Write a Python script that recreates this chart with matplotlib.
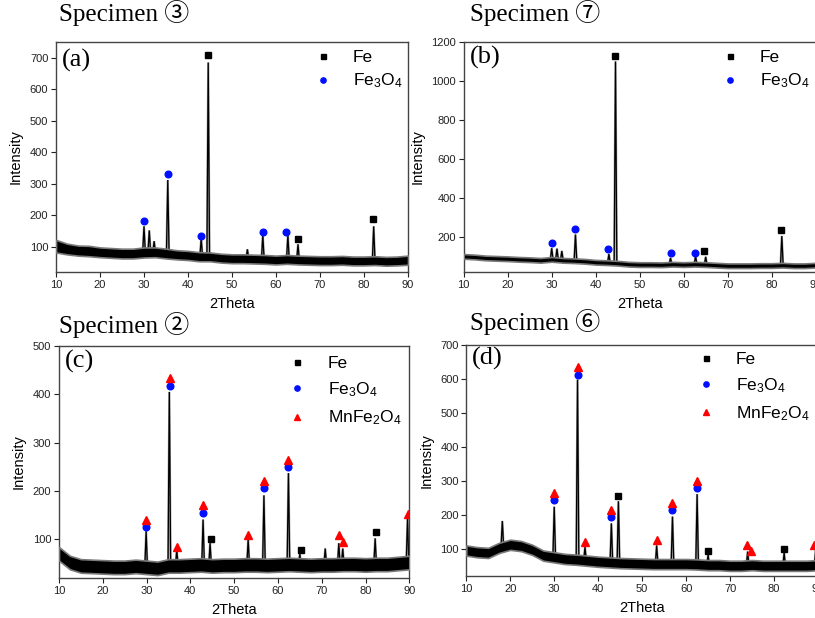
import numpy as np
import matplotlib
matplotlib.use("Agg")
import matplotlib.pyplot as plt
from matplotlib.lines import Line2D

plt.rcParams['font.family'] = ['Liberation Sans', 'DejaVu Sans']
plt.rcParams['mathtext.fontset'] = 'custom'
plt.rcParams['mathtext.rm'] = 'Liberation Sans'
plt.rcParams['mathtext.it'] = 'Liberation Sans:italic'

# ---------------- data ----------------
bg_x = [10, 12.5, 15, 17.5, 20, 22.5, 25, 27.5, 30, 32.5, 35, 37.5, 40, 42.5, 45,
        47.5, 50, 52.5, 55, 57.5, 60, 62.5, 65, 67.5, 70, 72.5, 75, 77.5, 80,
        82.5, 85, 87.5, 90]

# Specimen 3 (a)
a_lo = [82, 76, 72, 70, 67, 65, 63, 63, 66, 67, 63, 60, 58, 54, 54, 50, 48, 48,
        47, 46, 44, 46, 44, 43, 42, 42, 43, 41, 41, 42, 40, 41, 43]
a_hi = [122, 110, 104, 103, 98, 96, 94, 94, 98, 98, 94, 89, 87, 83, 82, 78, 76,
        76, 75, 74, 72, 74, 72, 71, 70, 70, 71, 69, 69, 70, 68, 69, 72]
a_pk_x = [30.0, 31.2, 32.3, 35.4, 43.0, 44.6, 53.5, 57.0, 62.7, 65.0, 82.2]
a_pk_y = [165, 152, 118, 312, 128, 685, 92, 138, 138, 108, 165]
a_fe_x = [44.6, 64.9, 82.1]
a_fe_y = [710, 124, 188]
a_fo_x = [30.0, 35.4, 42.9, 57.0, 62.3]
a_fo_y = [183, 330, 134, 148, 148]

# Specimen 7 (b)
b_lo = [88, 85, 80, 78, 76, 73, 71, 68, 73, 68, 66, 63, 58, 56, 53, 48, 46, 46,
        45, 48, 46, 48, 46, 43, 40, 40, 40, 41, 41, 43, 40, 40, 43]
b_hi = [112, 109, 104, 102, 100, 97, 95, 92, 97, 92, 90, 87, 82, 80, 77, 72, 70,
        70, 69, 72, 70, 72, 70, 67, 64, 64, 64, 65, 65, 67, 64, 64, 67]
b_pk_x = [30.0, 31.2, 32.3, 35.4, 43.0, 44.5, 57.0, 62.7, 65.0, 82.3]
b_pk_y = [142, 140, 128, 212, 112, 1100, 92, 102, 98, 205]
b_fe_x = [44.4, 64.7, 82.1]
b_fe_y = [1130, 130, 236]
b_fo_x = [30.1, 35.4, 42.9, 57.0, 62.5]
b_fo_y = [171, 243, 140, 120, 120]

# Specimen 2 (c)
c_lo = [56, 38, 31, 30, 29, 28, 28, 30, 28, 26, 31, 31, 32, 33, 31, 32, 32, 33,
        33, 32, 33, 34, 33, 32, 33, 33, 34, 34, 33, 34, 34, 36, 38]
c_hi = [84, 66, 59, 58, 57, 56, 56, 58, 56, 54, 59, 59, 60, 61, 59, 60, 60, 61,
        61, 60, 61, 62, 61, 60, 61, 61, 62, 62, 61, 62, 62, 64, 66]
c_pk_x = [29.9, 35.2, 36.9, 42.9, 44.5, 53.2, 56.8, 62.4, 65.0, 70.8, 73.9,
          74.8, 82.2, 89.6]
c_pk_y = [117, 405, 78, 141, 92, 100, 191, 237, 70, 81, 92, 81, 102, 143]
c_fe_x = [44.6, 65.2, 82.3]
c_fe_y = [101, 78, 115]
c_fo_x = [29.8, 35.3, 43.0, 56.8, 62.4]
c_fo_y = [125, 418, 155, 206, 250]
c_mn_x = [29.8, 35.3, 36.9, 43.0, 53.2, 56.8, 62.4, 74.0, 74.9, 89.6]
c_mn_y = [141, 434, 85, 171, 110, 221, 265, 108, 94, 152]

# Specimen 6 (d)
d_lo = [80, 75, 73, 88, 97, 93, 82, 65, 60, 55, 53, 50, 47, 45, 43, 42, 41, 40,
        40, 40, 40, 39, 37, 37, 35, 35, 37, 35, 35, 35, 35, 35, 37]
d_hi = [110, 105, 103, 118, 127, 123, 112, 95, 90, 85, 83, 80, 77, 75, 73, 72,
        71, 70, 70, 70, 70, 69, 67, 67, 65, 65, 67, 65, 65, 65, 65, 65, 67]
d_pk_x = [18.2, 30.0, 35.3, 37.0, 43.0, 44.6, 53.3, 56.9, 62.5, 65.0, 74.0,
          82.3, 89.5]
d_pk_y = [182, 224, 598, 105, 175, 240, 110, 195, 261, 82, 92, 88, 102]
d_fe_x = [44.6, 65.0, 82.3]
d_fe_y = [255, 94, 99]
d_fo_x = [30.0, 35.3, 42.9, 56.8, 62.5]
d_fo_y = [244, 613, 194, 213, 279]
d_mn_x = [30.0, 35.3, 37.0, 42.9, 53.4, 56.8, 62.5, 73.8, 74.7, 89.2]
d_mn_y = [265, 635, 119, 214, 125, 235, 300, 111, 94, 111]

titles = ['Specimen \u2462', 'Specimen \u2466', 'Specimen \u2461', 'Specimen \u2465']
panel_labels = ['(a)', '(b)', '(c)', '(d)']
x_ticks = [10, 20, 30, 40, 50, 60, 70, 80, 90]
a_yticks = [100, 200, 300, 400, 500, 600, 700]
b_yticks = [200, 400, 600, 800, 1000, 1200]
c_yticks = [100, 200, 300, 400, 500]
d_yticks = [100, 200, 300, 400, 500, 600, 700]
phase_labels = ['Fe', 'Fe$_3$O$_4$', 'MnFe$_2$O$_4$']

# ---------------- figure ----------------
W, H = 815, 618
fig = plt.figure(figsize=(W / 100, H / 100), dpi=100)


def rect(l, r, t, b):
    return [l / W, 1 - b / H, (r - l) / W, (b - t) / H]


panels = [
    dict(rect=rect(56, 408, 42, 272), lo=a_lo, hi=a_hi, pkx=a_pk_x, pky=a_pk_y,
         fe=(a_fe_x, a_fe_y), fo=(a_fo_x, a_fo_y), mn=None, ylim=(20, 750),
         yt=a_yticks, title_xy=(59, 21), lab_y=0.968,
         leg=(0.733, 0.965, 0.38)),
    dict(rect=rect(463.7, 815.7, 42, 272), lo=b_lo, hi=b_hi, pkx=b_pk_x, pky=b_pk_y,
         fe=(b_fe_x, b_fe_y), fo=(b_fo_x, b_fo_y), mn=None, ylim=(20, 1200),
         yt=b_yticks, title_xy=(470, 21), lab_y=0.985,
         leg=(0.731, 0.965, 0.38)),
    dict(rect=rect(59, 409.3, 346, 578), lo=c_lo, hi=c_hi, pkx=c_pk_x, pky=c_pk_y,
         fe=(c_fe_x, c_fe_y), fo=(c_fo_x, c_fo_y), mn=(c_mn_x, c_mn_y), ylim=(20, 500),
         yt=c_yticks, title_xy=(59, 333), lab_y=0.985,
         leg=(0.655, 0.958, 0.55)),
    dict(rect=rect(466.3, 818, 345, 576), lo=d_lo, hi=d_hi, pkx=d_pk_x, pky=d_pk_y,
         fe=(d_fe_x, d_fe_y), fo=(d_fo_x, d_fo_y), mn=(d_mn_x, d_mn_y), ylim=(20, 700),
         yt=d_yticks, title_xy=(470, 330), lab_y=0.99,
         leg=(0.656, 0.972, 0.55)),
]

hw = 0.3  # half width of a peak on the plot (drawing style)
for i, p in enumerate(panels):
    ax = fig.add_axes(p['rect'])
    lo = np.array(p['lo'], float)
    hi = np.array(p['hi'], float)
    # noisy background band
    ax.fill_between(bg_x, lo, hi, facecolor='black', edgecolor='#7a7a7a',
                    linewidth=1.2, zorder=3)
    mid = (lo + hi) / 2
    # diffraction peaks
    for px, py in zip(p['pkx'], p['pky']):
        base = np.interp(px, bg_x, mid)
        ax.plot([px - hw, px, px + hw], [base, py, base], color='#a0a0a0',
                lw=1.6, zorder=2, solid_joinstyle='miter')
        ax.plot([px - hw, px, px + hw], [base, py, base], color='black',
                lw=0.9, zorder=2.5, solid_joinstyle='miter')
    # phase markers
    ax.plot(p['fe'][0], p['fe'][1], ls='none', marker='s', color='black',
            ms=4.2, zorder=5)
    ax.plot(p['fo'][0], p['fo'][1], ls='none', marker='o', color='#0010ff',
            ms=4.8, zorder=5)
    if p['mn'] is not None:
        ax.plot(p['mn'][0], p['mn'][1], ls='none', marker='^', color='#ff0000',
                ms=5.2, zorder=5)

    ax.set_xlim(10, 90)
    ax.set_ylim(*p['ylim'])
    ax.set_xticks(x_ticks)
    ax.set_yticks(p['yt'])
    ax.tick_params(direction='out', length=3.5, width=0.8, labelsize=8,
                   pad=2, colors='#222222')
    for s in ax.spines.values():
        s.set_color('#444444')
        s.set_linewidth(1.0)
    ax.set_xlabel('2Theta', fontsize=10.5, labelpad=5)
    ax.set_ylabel('Intensity', fontsize=10.5, labelpad=5)

    ax.text(0.017, p['lab_y'], panel_labels[i], transform=ax.transAxes,
            fontsize=19, family=['Liberation Serif', 'DejaVu Serif'], va='top',
            ha='left', zorder=6)

    handles = [Line2D([], [], ls='none', marker='s', color='black', ms=3.6),
               Line2D([], [], ls='none', marker='o', color='#0010ff', ms=3.8)]
    labels = phase_labels[:2]
    if p['mn'] is not None:
        handles.append(Line2D([], [], ls='none', marker='^', color='#ff0000', ms=4.2))
        labels = phase_labels
    lx, ly, ls = p['leg']
    ax.legend(handles, labels, loc='upper left', bbox_to_anchor=(lx, ly),
              frameon=False, fontsize=12.5, handlelength=1.0, handletextpad=1.25,
              labelspacing=ls, borderpad=0, borderaxespad=0)

    tx, ty = p['title_xy']
    fig.text(tx / W, 1 - ty / H, titles[i], fontsize=18,
             family=['Liberation Serif', 'Noto Sans CJK JP', 'DejaVu Sans'],
             va='baseline', ha='left')

fig.savefig('out.png', dpi=100)
